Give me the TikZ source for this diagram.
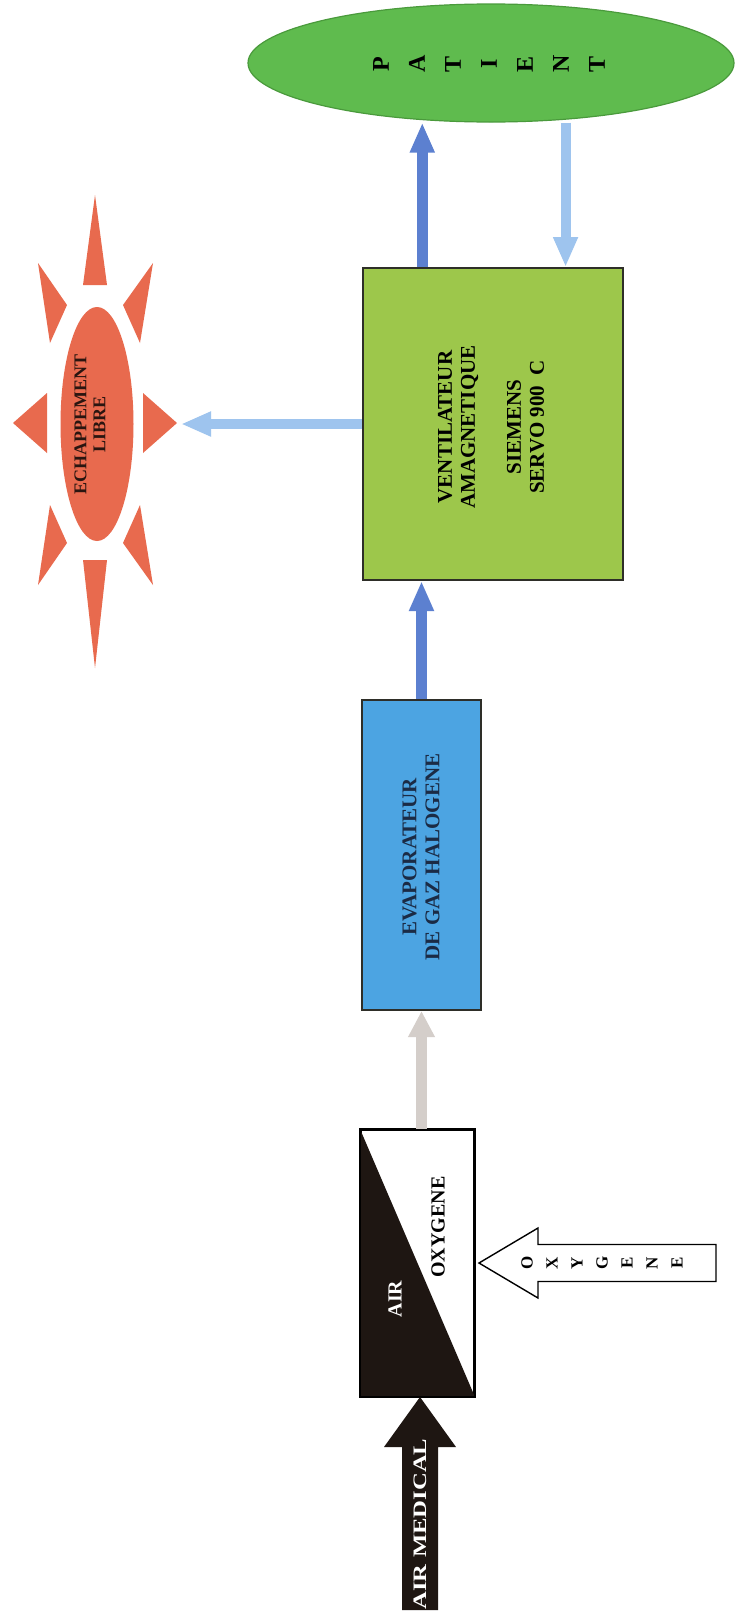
\documentclass[tikz,border=0pt]{standalone}
\usepackage{fontspec}
\usepackage{graphicx}
\setmainfont{Liberation Serif}
\usetikzlibrary{arrows.meta,shapes.geometric,calc}

\definecolor{patientgreen}{HTML}{5FBB4E}
\definecolor{patientedge}{HTML}{4A9A3C}
\definecolor{ventgreen}{HTML}{9DC74B}
\definecolor{evapblue}{HTML}{4CA4E2}
\definecolor{evaptext}{HTML}{1B2B45}
\definecolor{boxline}{HTML}{2E2E28}
\definecolor{arrowdark}{HTML}{5C80D0}
\definecolor{arrowlight}{HTML}{9EC4EE}
\definecolor{arrowgray}{HTML}{D4CECA}
\definecolor{sunred}{HTML}{E86A4E}
\definecolor{suntext}{HTML}{2A1510}
\definecolor{mixerdark}{HTML}{1E1612}

\begin{document}
\begin{tikzpicture}[x=0.5pt,y=-0.5pt,
  panel/.style={draw=boxline, line width=1pt, inner sep=0pt},
  boxtext/.style={rotate=90, align=center, inner sep=0pt,
    font=\bfseries\fontsize{10.5}{11.5}\selectfont},
  flowdark/.style={draw=arrowdark, line width=5.5pt,
    -{Triangle[length=15pt,width=11.5pt]}},
  flowlight/.style={draw=arrowlight, line width=5pt,
    -{Triangle[length=15pt,width=11.5pt]}},
  flowgray/.style={draw=arrowgray, line width=5.5pt,
    -{Triangle[length=13pt,width=12.5pt]}},
]
\useasboundingbox (0,0) rectangle (736,1617);
\fill[white] (0,0) rectangle (736,1617);

% Patient
\node[ellipse, fill=patientgreen, draw=patientedge, line width=0.6pt,
      minimum width=243pt, minimum height=59pt, inner sep=0pt] (patient) at (491,63) {};
\node[boxtext, font=\bfseries\fontsize{12}{18}\selectfont] (patienttext) at (489,64)
  {P\\A\\T\\I\\E\\N\\T};

% Ventilator
\node[panel, fill=ventgreen, minimum width=130pt, minimum height=156pt] (vent) at (493,424) {};
\node[boxtext] (venttext) at (491,427)
  {VENTILATEUR\\AMAGNETIQUE\\[11.5pt]SIEMENS\\SERVO 900\ \ C};

% Evaporator
\node[panel, fill=evapblue, minimum width=59.5pt, minimum height=155pt] (evap) at (421.5,855) {};
\node[boxtext, text=evaptext] (evaptext) at (421,857)
  {EVAPORATEUR\\DE GAZ HALOGENE};

% Air / oxygen mixer
\node[panel, draw=black, fill=white, minimum width=56.5pt, minimum height=133pt] (mixer) at (417.5,1263) {};
\fill[mixerdark] (mixer.north west) -- (mixer.south east) -- (mixer.south west) -- cycle;
\draw[black, line width=1pt] (mixer.north west) rectangle (mixer.south east);
\node[boxtext, text=white, font=\bfseries\fontsize{10}{11}\selectfont] (airtext) at (395,1299) {AIR};
\node[boxtext, font=\bfseries\fontsize{10}{11}\selectfont] (oxytext) at (438,1227) {OXYGENE};

% Exhaust sun
\fill[sunred] (83,285) -- (95,195) -- (107,285) -- cycle;
\fill[sunred] (83,560) -- (95,668) -- (107,560) -- cycle;
\fill[sunred] (47,393) -- (13,423) -- (47,453) -- cycle;
\fill[sunred] (143,393) -- (177,423) -- (143,453) -- cycle;
\fill[sunred] (38,263) -- (67,305) -- (50,343) -- cycle;
\fill[sunred] (153,263) -- (123,305) -- (140,343) -- cycle;
\fill[sunred] (38,585) -- (67,543) -- (50,505) -- cycle;
\fill[sunred] (153,585) -- (123,543) -- (140,505) -- cycle;
\node[ellipse, fill=sunred, minimum width=36.5pt, minimum height=117pt, inner sep=0pt] (sun) at (97,424) {};
\node[boxtext, text=suntext, font=\bfseries\fontsize{9}{9.5}\selectfont] (suntextnode) at (90,424)
  {ECHAPPEMENT\\LIBRE};
\coordinate (exhaustend) at (181,424);

% Gas flow connectors
\draw[flowgray] (mixer.north -| evap.south) -- (evap.south);
\draw[flowdark] (evap.north) -- (evap.north |- vent.south);
\coordinate (ventup) at ($(vent.north west)!0.23!(vent.north east)$);
\coordinate (ventback) at ($(vent.north west)!0.777!(vent.north east)$);
\draw[flowdark] (ventup) -- (ventup |- patient.south);
\draw[flowlight] (ventback |- patient.south) -- (ventback);
\draw[flowlight] (vent.west) -- (exhaustend);

% Medical air inlet
\fill[mixerdark] ($(mixer.south)+(2.5,0)$) coordinate (airtip)
  -- ++(36,50) -- ++(-18,0) -- ++(0,163) -- ++(-36,0) -- ++(0,-163) -- ++(-18,0) -- cycle;
\node[boxtext, text=white, font=\bfseries\fontsize{9.5}{10}\selectfont] (airmed) at (420,1524)
  {\scalebox{1.3}[1]{AIR MEDICAL}};

% Oxygen inlet
\filldraw[fill=white, draw=black, line width=0.7pt] ($(mixer.east)+(4,0)$) coordinate (oxytip)
  -- ++(59,-35) -- ++(0,16.5) -- ++(178,0) -- ++(0,37) -- ++(-178,0) -- ++(0,16.5) -- cycle;
\node[boxtext, font=\bfseries\fontsize{8.5}{12.5}\selectfont] (oxyletters) at (602,1263)
  {O\\X\\Y\\G\\E\\N\\E};
\end{tikzpicture}
\end{document}
